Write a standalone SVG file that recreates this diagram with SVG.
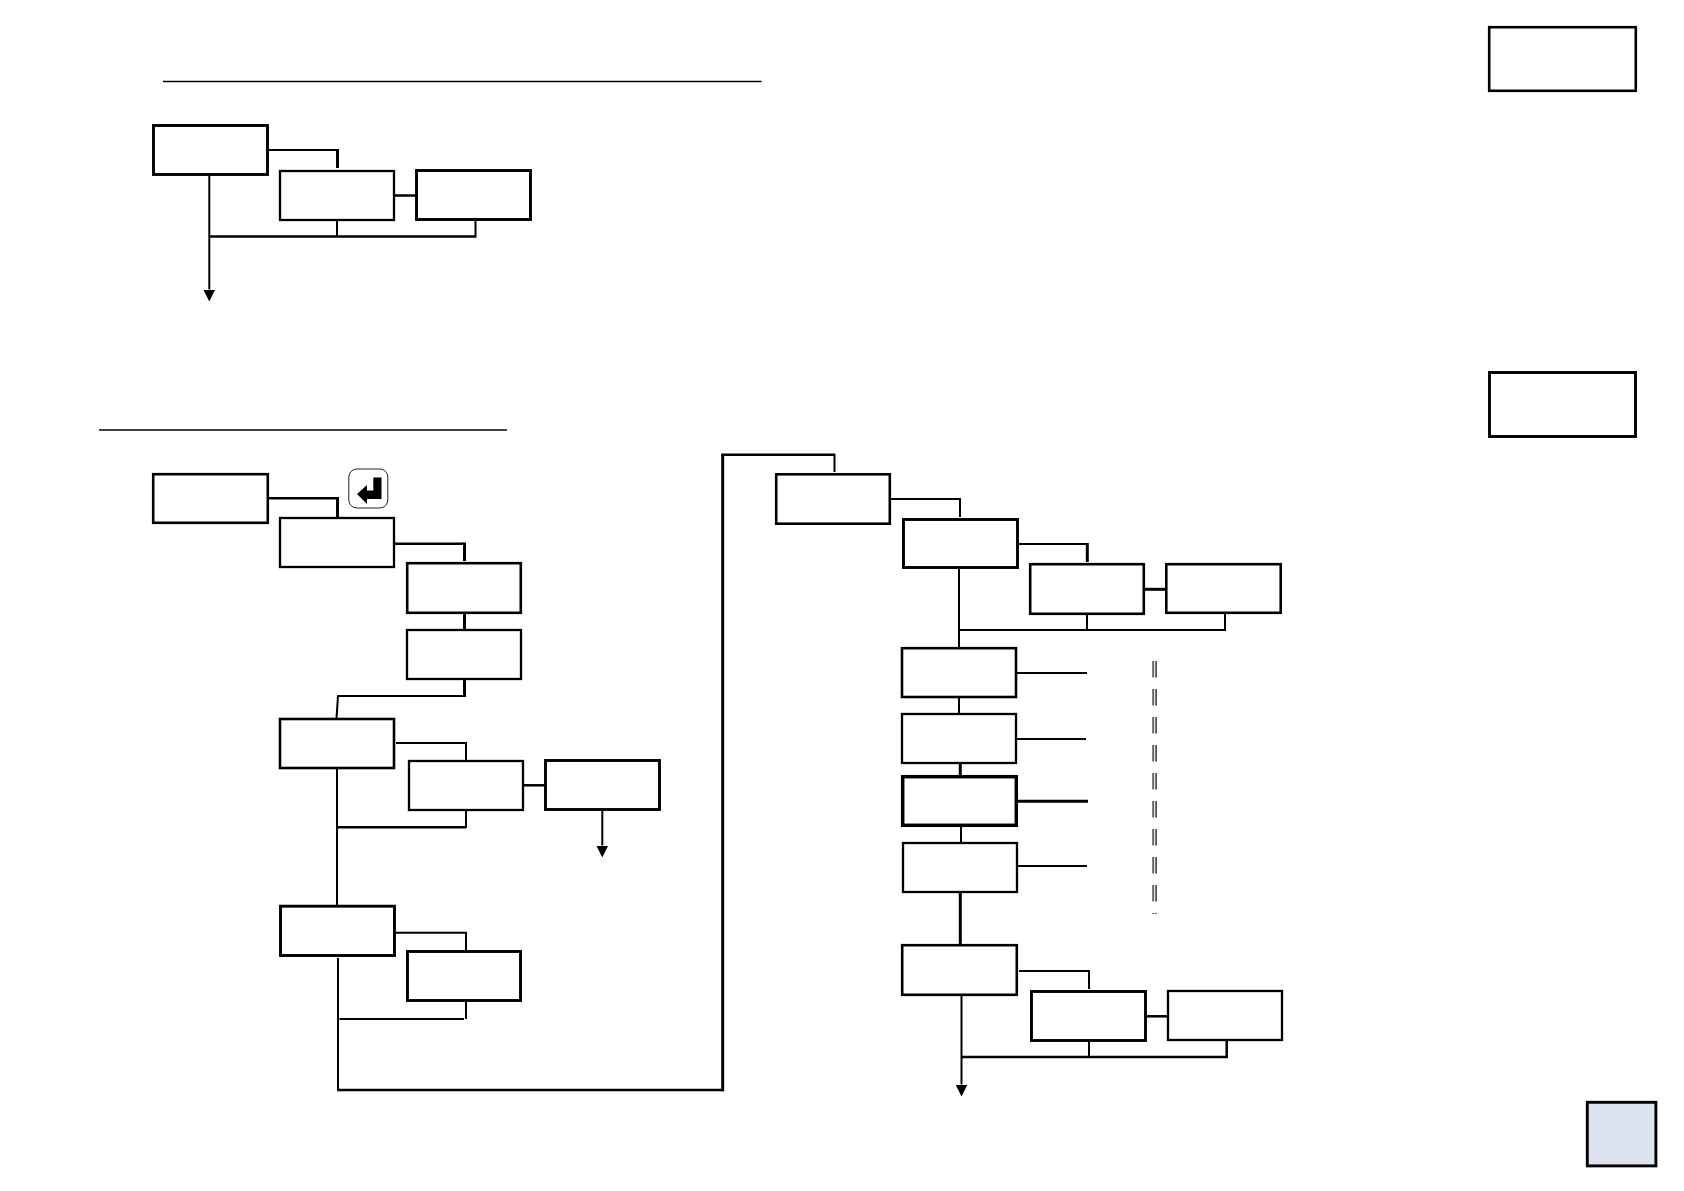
<svg xmlns="http://www.w3.org/2000/svg" width="1684" height="1191" viewBox="0 0 1684 1191">
<style>
.n{fill:#fff;stroke:#000;stroke-width:2.3}
.n25{stroke-width:2.6}
.n3{stroke-width:2.9}
.c{fill:none;stroke:#000;stroke-width:2}
.c15{stroke-width:1.5}
.c25{stroke-width:2.5}
.c3{stroke-width:3}
</style>
<defs>
<marker id="arrow" markerUnits="userSpaceOnUse" markerWidth="12" markerHeight="12" refX="0" refY="6" orient="auto"><path d="M0 0L12 6L0 12Z" fill="#000"/></marker>
</defs>
<rect width="1684" height="1191" fill="#fff"/>
<g id="connectors">
<path class="c c15" d="M163 81.5H761.5"/>
<path class="c c15" d="M99 430H507"/>
<path class="c" d="M269 150H337"/><path class="c c3" d="M337.5 149V168"/>
<path class="c c25" d="M395 195.5H416"/>
<path class="c" d="M337 221V236M475.5 221V236"/>
<path class="c c25" d="M209 236.5H476.5"/>
<path class="c" d="M209.3 176V289.5" marker-end="url(#arrow)"/>
<path class="c c25" d="M269 498.3H337"/><path class="c c3" d="M337.5 497V518"/>
<path class="c c25" d="M395 543.7H464"/><path class="c c3" d="M464.5 542.5V561"/>
<path class="c c3" d="M464.5 614V630M464.5 680V697"/>
<path class="c" d="M464.5 696H338L336.5 718"/>
<path class="c" d="M396 743H466V761"/>
<path class="c c25" d="M524 785.3H545"/>
<path class="c" d="M602.3 811V845.5" marker-end="url(#arrow)"/>
<path class="c" d="M337 769V905"/>
<path class="c c25" d="M337 827.3H466"/><path class="c" d="M466 811V828"/>
<path class="c" d="M396 932.7H466V950"/>
<path class="c" d="M466 1002V1019M339.5 1019H464"/>
<path class="c" d="M338 958V1091"/>
<path class="c c25" d="M337 1090H723.5"/>
<path class="c c3" d="M722.7 1091.2V454.7"/>
<path class="c c25" d="M721.2 454.7H835"/>
<path class="c" d="M834.5 454V472"/>
<path class="c" d="M891 499H960V517"/>
<path class="c" d="M1019 544H1087"/><path class="c c3" d="M1087.3 543V562"/>
<path class="c c3" d="M1145 589.3H1166"/>
<path class="c" d="M959 569V648"/>
<path class="c" d="M959 630H1225V614M1087 615V630"/>
<path class="c" d="M1017 673H1087M1017 739H1086"/>
<path class="c" d="M959 698V714"/>
<path class="c c3" d="M960.3 764V776"/>
<path class="c c3" d="M1018 801.3H1088"/>
<path class="c" d="M961 827V843"/>
<path class="c" d="M1018 866H1087"/>
<path class="c c3" d="M960.3 893V945"/>
<path class="c" d="M1019 971H1089V989"/>
<path class="c c25" d="M1147 1016.3H1168"/>
<path class="c" d="M1089 1042V1057"/><path class="c c25" d="M1226.7 1041V1057"/>
<path class="c c25" d="M961 1057H1228"/>
<path class="c" d="M961.5 996V1084.5" marker-end="url(#arrow)"/>
<path d="M1153.2 661V914" fill="none" stroke="#666" stroke-width="2" stroke-dasharray="16.5 11.5"/>
<path d="M1156.1 661V914" fill="none" stroke="#000" stroke-width="1.2" stroke-dasharray="16.5 11.5"/>
</g>
<g id="node-1"><rect class="n n3" x="153.5" y="125.5" width="114" height="49"/></g>
<g id="node-2"><rect class="n" x="280" y="171" width="114" height="49"/></g>
<g id="node-3"><rect class="n n3" x="416.5" y="170.5" width="114" height="49"/></g>
<g id="node-4"><rect class="n n25" x="153.2" y="474.2" width="114.6" height="48.6"/></g>
<g id="node-5"><rect class="n" x="280" y="518" width="114" height="49"/></g>
<g id="node-6"><rect class="n n25" x="407.2" y="563.2" width="113.6" height="49.6"/></g>
<g id="node-7"><rect class="n" x="407" y="630" width="114" height="49"/></g>
<g id="node-8"><rect class="n n25" x="280" y="719" width="114" height="49"/></g>
<g id="node-9"><rect class="n" x="409" y="761" width="114" height="49"/></g>
<g id="node-10"><rect class="n n3" x="545.5" y="760.5" width="114" height="49"/></g>
<g id="node-11"><rect class="n n3" x="280.5" y="906.2" width="114" height="49.3"/></g>
<g id="node-12"><rect class="n n3" x="407.5" y="951.5" width="113" height="49"/></g>
<g id="node-13"><rect class="n n25" x="776.2" y="474.3" width="113.6" height="49.4"/></g>
<g id="node-14"><rect class="n n3" x="903.5" y="519.5" width="114" height="48"/></g>
<g id="node-15"><rect class="n n25" x="1030.2" y="564.2" width="113.6" height="49.6"/></g>
<g id="node-16"><rect class="n n25" x="1166.3" y="564.2" width="114.4" height="48.6"/></g>
<g id="node-17"><rect class="n n25" x="902" y="648.2" width="114" height="48.8"/></g>
<g id="node-18"><rect class="n" x="902" y="714" width="114" height="49"/></g>
<g id="node-19"><rect class="n" style="stroke-width:3.5" x="902.7" y="776.7" width="113.6" height="48.6"/></g>
<g id="node-20"><rect class="n" x="903" y="843" width="114" height="49"/></g>
<g id="node-21"><rect class="n n25" x="902.2" y="945.2" width="114.6" height="49.6"/></g>
<g id="node-22"><rect class="n n3" x="1031.5" y="991.5" width="114" height="49"/></g>
<g id="node-23"><rect class="n" x="1168" y="991" width="114" height="49"/></g>
<g id="legend-1"><rect class="n n25" x="1489.2" y="27.2" width="146.6" height="63.6"/></g>
<g id="legend-2"><rect class="n n3" x="1489.5" y="372.5" width="146" height="64"/></g>
<g id="page-box"><rect class="n n3" style="fill:#dbe3f0" x="1587.3" y="1102.3" width="68.6" height="63.6"/></g>
<g id="enter-key">
<rect x="348.8" y="469" width="39" height="39" rx="8" fill="#fff" stroke="#222" stroke-width="1"/>
<path d="M373.3 477.5H381.5V499H367V504L357 494L367 485V490.5H373.3Z" fill="#000"/>
</g>
</svg>
